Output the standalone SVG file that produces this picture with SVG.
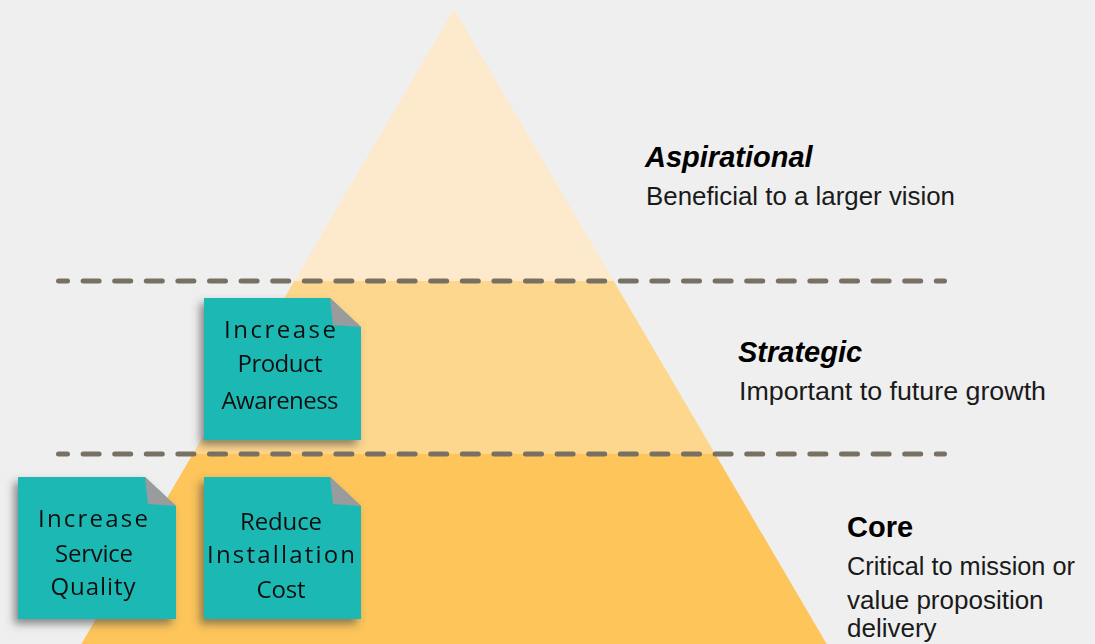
<svg xmlns="http://www.w3.org/2000/svg" width="1095" height="644" viewBox="0 0 1095 644">
<style>
.note{fill:#1eb9b4}
.fold{fill:#9a9b9c}
.nt{font-family:"Open Sans","DejaVu Sans",sans-serif;font-weight:normal;font-size:24px;fill:#111;text-anchor:middle}
.hd{font-family:"Liberation Sans",Arial,sans-serif;font-weight:bold;font-style:italic;font-size:29px;fill:#000}
.bd{font-family:"Liberation Sans",Arial,sans-serif;font-size:26px;fill:#1a1a1a}
.dash{stroke:#787062;stroke-width:5;stroke-linecap:round;stroke-dasharray:16 15.6;stroke-dashoffset:7;fill:none}
</style>
<defs>
<filter id="sh" x="-20%" y="-20%" width="140%" height="140%">
<feDropShadow dx="-4" dy="5" stdDeviation="4" flood-color="#444" flood-opacity="0.6"/>
</filter>
</defs>
<rect width="1095" height="644" fill="#efefef"/>
<g id="pyramid">
<polygon points="454,9 613.7,281 294.3,281" fill="#fdeacc"/>
<polygon points="294.3,281 613.7,281 715.2,454 192.8,454" fill="#fed78e"/>
<polygon points="192.8,454 715.2,454 826.7,644 81.3,644" fill="#fdc55a"/>
</g>
<g id="connectors">
<line class="dash" x1="58.5" y1="281" x2="944.5" y2="281"/>
<line class="dash" x1="58.5" y1="454" x2="944.5" y2="454"/>
</g>
<g id="labels">
<text class="hd" x="645" y="167">Aspirational</text>
<text class="bd" x="646" y="205" textLength="309" lengthAdjust="spacingAndGlyphs">Beneficial to a larger vision</text>
<text class="hd" x="738" y="362">Strategic</text>
<text class="bd" x="739" y="400" textLength="307" lengthAdjust="spacingAndGlyphs">Important to future growth</text>
<text class="hd" x="847" y="537" style="font-style:normal">Core</text>
<text class="bd" x="847" y="575" textLength="228" lengthAdjust="spacingAndGlyphs">Critical to mission or</text>
<text class="bd" x="847" y="609">value proposition</text>
<text class="bd" x="847" y="637">delivery</text>
</g>
<g id="note-product-awareness" filter="url(#sh)">
<polygon class="note" points="204,298 330,298 361,327 361,440 204,440"/>
<polygon class="fold" points="330,298 361,327 333,325"/>
<text class="nt" x="280" y="338" textLength="112" lengthAdjust="spacing">Increase</text>
<text class="nt" x="280" y="372" textLength="85" lengthAdjust="spacing">Product</text>
<text class="nt" x="280" y="409" textLength="117" lengthAdjust="spacing">Awareness</text>
</g>
<g id="note-service-quality" filter="url(#sh)">
<polygon class="note" points="18,477 145,477 176,506 176,619 18,619"/>
<polygon class="fold" points="145,477 176,506 148,504"/>
<text class="nt" x="93" y="527" textLength="110" lengthAdjust="spacing">Increase</text>
<text class="nt" x="94" y="562" textLength="78" lengthAdjust="spacing">Service</text>
<text class="nt" x="93" y="595" textLength="85" lengthAdjust="spacing">Quality</text>
</g>
<g id="note-installation-cost" filter="url(#sh)">
<polygon class="note" points="204,477 330,477 361,506 361,619 204,619"/>
<polygon class="fold" points="330,477 361,506 333,504"/>
<text class="nt" x="281" y="530" textLength="82" lengthAdjust="spacing">Reduce</text>
<text class="nt" x="281" y="563" textLength="148" lengthAdjust="spacing">Installation</text>
<text class="nt" x="281" y="598" textLength="49" lengthAdjust="spacing">Cost</text>
</g>
</svg>
